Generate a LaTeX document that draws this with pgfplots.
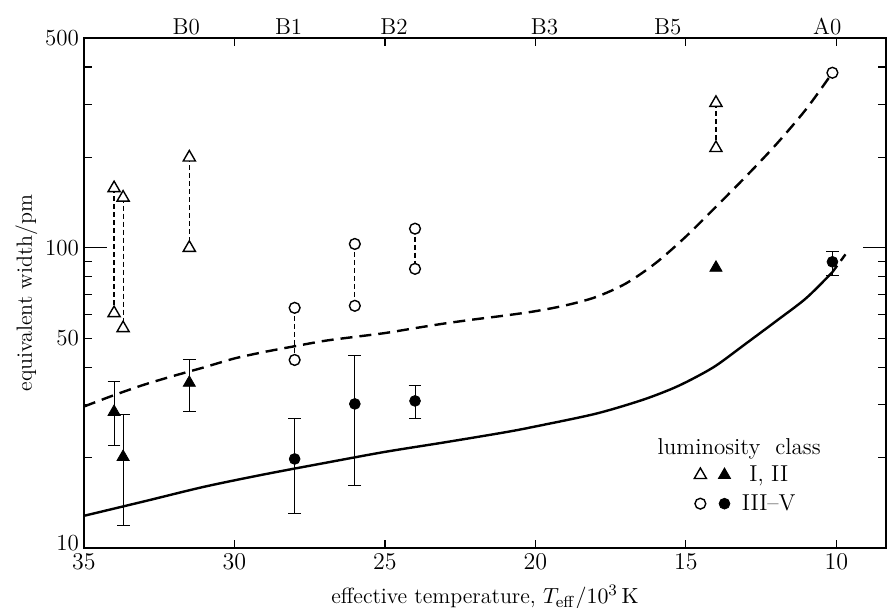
\documentclass[border=0pt]{standalone}
\usepackage{pgfplots}
\pgfplotsset{compat=1.18}
\begin{document}
\begin{tikzpicture}
\path[use as bounding box] (-42pt,-30pt) rectangle (402pt,274pt);
\begin{axis}[
  scale only axis, width=401pt, height=255pt,
  x dir=reverse, xmin=8.35, xmax=35,
  ymode=log, ymin=10, ymax=500,
  xtick={35,30,25,20,15,10},
  ytick={10,50,500}, yticklabels={\raisebox{5pt}{10},50,500},
  extra y ticks={100}, extra y tick labels={100},
  extra y tick style={major tick length=11.5pt},
  minor ytick={20,30,40,60,70,80,90,200,300,400},
  major tick length=4pt, minor tick length=4pt,
  tick style={black, line width=0.6pt},
  axis line style={line width=0.9pt},
  tick label style={font=\fontsize{11.5}{13}\selectfont},
  label style={font=\fontsize{11}{13}\selectfont},
  xticklabel style={yshift=0.5pt},
  yticklabel style={xshift=1pt},
  xlabel={effective temperature, $T_{\mathrm{eff}}/10^3\,\mathrm{K}$},
  ylabel={equivalent width/pm},
  xlabel style={yshift=-1pt},
  ylabel style={yshift=-3pt},
  clip=false,
  legend columns=2,
  legend style={draw=none, fill=none, at={(rel axis cs:0.753,0.178)}, anchor=north west,
    row sep=1pt, column sep=1pt, font=\fontsize{11.5}{13}\selectfont},
  legend image code/.code={\draw[mark repeat=2,mark phase=2,#1] plot coordinates {(0cm,0cm) (0.15cm,0cm) (0.3cm,0cm)};},
]
% theoretical curves
\addplot[black, line width=1.2pt, dash pattern=on 6pt off 3.5pt, smooth, forget plot] coordinates {
  (35,29.6) (34,32.3) (33,35) (32,37.5) (31,40) (30,42.8) (29,45) (28,47) (27,49)
  (26,50.5) (25,52) (24,54) (23,56) (22,57.8) (21,59.5) (20,61.5) (19,64.3) (18,68.5)
  (17,76) (16,89) (15,109) (14,137) (13,173) (12,221) (11,290) (10.13,383)
};
\addplot[black, line width=1.2pt, smooth, forget plot] coordinates {
  (35,12.8) (33,14.3) (31,16.0) (29,17.6) (27,19.2) (25,20.9) (23,22.5) (21,24.3)
  (20,25.4) (18,28) (16.5,31) (15.5,33.8) (14.8,36.5) (14,40.5) (13,48) (12,57) (11,68) (10.13,83)
};
\addplot[black, line width=1.2pt, dash pattern=on 4pt off 3pt, forget plot] coordinates {(10.13,83) (9.6,98)};

% open triangles, I, II (pairs)
\addplot[black, line width=0.6pt, dash pattern=on 2.5pt off 1.5pt, mark=triangle*, mark size=3.5pt, mark options={solid, fill=white, line width=0.7pt}, forget plot] coordinates {(34.0,158) (34.0,60.6)};
\addplot[black, line width=0.6pt, dash pattern=on 2.5pt off 1.5pt, mark=triangle*, mark size=3.5pt, mark options={solid, fill=white, line width=0.7pt}, forget plot] coordinates {(33.7,147) (33.7,54)};
\addplot[black, line width=0.6pt, dash pattern=on 2.5pt off 1.5pt, mark=triangle*, mark size=3.5pt, mark options={solid, fill=white, line width=0.7pt}, forget plot] coordinates {(31.5,200) (31.5,100)};
\addplot[black, line width=0.6pt, dash pattern=on 2.5pt off 1.5pt, mark=triangle*, mark size=3.5pt, mark options={solid, fill=white, line width=0.7pt}, forget plot] coordinates {(14.0,304) (14.0,215)};

% open circles, III-V (pairs)
\addplot[black, line width=0.6pt, dash pattern=on 2.5pt off 1.5pt, mark=*, mark size=2.7pt, mark options={solid, fill=white, line width=0.7pt}, forget plot] coordinates {(28,63.1) (28,42.3)};
\addplot[black, line width=0.6pt, dash pattern=on 2.5pt off 1.5pt, mark=*, mark size=2.7pt, mark options={solid, fill=white, line width=0.7pt}, forget plot] coordinates {(26,103) (26,64.1)};
\addplot[black, line width=0.6pt, dash pattern=on 2.5pt off 1.5pt, mark=*, mark size=2.7pt, mark options={solid, fill=white, line width=0.7pt}, forget plot] coordinates {(24,115.8) (24,85.1)};
\addplot[black, only marks, mark=*, mark size=2.7pt, mark options={fill=white, line width=0.7pt}, forget plot] coordinates {(10.13,383)};

% filled triangles with error bars
\addplot[black, only marks, mark=triangle*, mark size=3.5pt, forget plot,
  error bars/.cd, y dir=both, y explicit, error bar style={line width=0.5pt},
  error mark options={rotate=90, mark size=3.2pt, line width=0.5pt}] coordinates {
  (34.0,28.4) += (0,7.4) -= (0,6.5)
  (33.7,20.1) += (0,7.8) -= (0,8.2)
  (31.5,35.5) += (0,6.8) -= (0,6.9)
};
\addplot[black, only marks, mark=triangle*, mark size=3.5pt, forget plot] coordinates {(14.0,85.8)};

% filled circles with error bars
\addplot[black, only marks, mark=*, mark size=2.7pt, forget plot,
  error bars/.cd, y dir=both, y explicit, error bar style={line width=0.5pt},
  error mark options={rotate=90, mark size=3.2pt, line width=0.5pt}] coordinates {
  (28,19.8) += (0,7.3) -= (0,6.8)
  (26,30.2) += (0,13.5) -= (0,14.0)
  (24,30.9) += (0,3.8) -= (0,3.8)
  (10.13,89.8) += (0,7.2) -= (0,8.8)
};

% spectral types along the top
\begin{scope}[every node/.style={anchor=south, inner sep=1.5pt, font=\fontsize{11.5}{13}\selectfont}]
\node at (axis cs:31.6,500) {B0};
\node at (axis cs:28.2,500) {B1};
\node at (axis cs:24.7,500) {B2};
\node at (axis cs:19.7,500) {B3};
\node at (axis cs:15.6,500) {B5};
\node at (axis cs:10.3,500) {A0};
\end{scope}

% legend
\node[font=\fontsize{11.5}{13}\selectfont] at (rel axis cs:0.817,0.194) {luminosity\ \ class};
\addlegendimage{black, only marks, mark=triangle*, mark size=3.5pt, mark options={fill=white, line width=0.7pt}}
\addlegendentry{}
\addlegendimage{black, only marks, mark=triangle*, mark size=3.5pt}
\addlegendentry{\makebox[2.8em][c]{I, II}}
\addlegendimage{black, only marks, mark=*, mark size=2.7pt, mark options={fill=white, line width=0.7pt}}
\addlegendentry{}
\addlegendimage{black, only marks, mark=*, mark size=2.7pt}
\addlegendentry{\makebox[2.8em][c]{III--V}}
\end{axis}
\end{tikzpicture}
\end{document}
